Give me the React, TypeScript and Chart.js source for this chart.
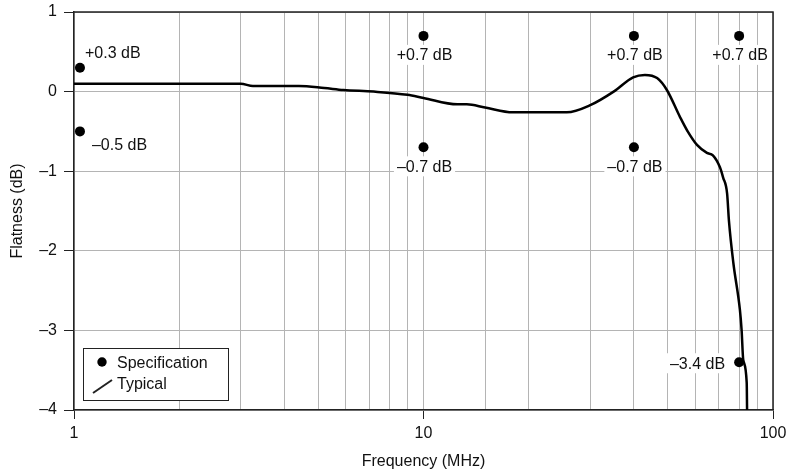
import React, { useEffect, useRef } from 'react';
import { Chart, registerables } from 'chart.js';

Chart.register(...registerables);

const FONT = '"Liberation Sans", Arial, Helvetica, sans-serif';

// Typical flatness curve
const freqMHz = [1, 3.0, 3.25, 4.4, 5.2, 5.9, 7.2, 9.0, 10, 12.5, 13.3, 15, 18, 20, 23, 25.7, 30, 35, 39.8, 43, 46.6, 49.7, 54.2, 57, 60.6, 64.7, 67.3, 70.5, 72, 73.9, 74.8, 77, 80.4, 81.3, 82.2, 84.1, 84.3];
const flatnessDb = [0.1, 0.1, 0.07, 0.07, 0.045, 0.02, 0.0, -0.04, -0.08, -0.16, -0.16, -0.2, -0.26, -0.26, -0.26, -0.26, -0.17, 0.0, 0.18, 0.21, 0.17, 0.02, -0.32, -0.5, -0.67, -0.77, -0.8, -0.95, -1.08, -1.28, -1.62, -2.15, -2.74, -2.99, -3.37, -3.66, -4.0];

// Specification points
const specFreqMHz = [1.04, 1.04, 10, 10, 40, 40, 80, 80];
const specDb = [0.3, -0.5, 0.7, -0.7, 0.7, -0.7, 0.7, -3.4];
const specLabels = ['+0.3 dB', '\u20130.5 dB', '+0.7 dB', '\u20130.7 dB', '+0.7 dB', '\u20130.7 dB', '+0.7 dB', '\u20133.4 dB'];
const specLabelPlacement = ['upright', 'downright', 'below', 'below', 'below', 'below', 'below', 'left'];

const xTickLabels = [1, 10, 100];
const yTickValues = [-4, -3, -2, -1, 0, 1];

const seriesNames = ['Typical', 'Specification'];
const xTitle = 'Frequency (MHz)';
const yTitle = 'Flatness (dB)';

const isDecade = (v: number) => {
  const l = Math.log10(v);
  return Math.abs(l - Math.round(l)) < 1e-6;
};

const frameAndLabels = {
  id: 'frameAndLabels',
  afterDatasetsDraw(chart: any) {
    const ctx = chart.ctx;
    const a = chart.chartArea;
    ctx.save();
    // top/right frame
    ctx.strokeStyle = '#222';
    ctx.lineWidth = 1.5;
    ctx.beginPath();
    ctx.moveTo(a.left, a.top);
    ctx.lineTo(a.right, a.top);
    ctx.lineTo(a.right, a.bottom);
    ctx.stroke();

    // spec labels
    const meta = chart.getDatasetMeta(1);
    ctx.font = `16px ${FONT}`;
    ctx.textBaseline = 'middle';
    meta.data.forEach((pt: any, i: number) => {
      const text = specLabels[i];
      const place = specLabelPlacement[i];
      let x = pt.x;
      let y = pt.y;
      let align: CanvasTextAlign = 'center';
      if (place === 'upright') { x = pt.x + 5; y = pt.y - 15; align = 'left'; }
      else if (place === 'downright') { x = pt.x + 12; y = pt.y + 13; align = 'left'; }
      else if (place === 'below') { x = pt.x + 1; y = pt.y + 19; align = 'center'; }
      else if (place === 'left') { x = pt.x - 14; y = pt.y + 1; align = 'right'; }
      const w = ctx.measureText(text).width;
      let bx = x - 3;
      if (align === 'center') bx = x - w / 2 - 3;
      if (align === 'right') bx = x - w - 3;
      ctx.fillStyle = '#ffffff';
      ctx.fillRect(bx, y - 10, w + 6, 20);
      ctx.fillStyle = '#111';
      ctx.textAlign = align;
      ctx.fillText(text, x, y + 1);
    });

    // legend
    const lx = a.left + 9;
    const ly = a.bottom - 62;
    const lw = 145;
    const lh = 52;
    ctx.fillStyle = '#fff';
    ctx.fillRect(lx, ly, lw, lh);
    ctx.strokeStyle = '#222';
    ctx.lineWidth = 1;
    ctx.strokeRect(lx + 0.5, ly + 0.5, lw, lh);
    ctx.fillStyle = '#000';
    ctx.beginPath();
    ctx.arc(lx + 19, ly + 14, 4.7, 0, Math.PI * 2);
    ctx.fill();
    ctx.strokeStyle = '#222';
    ctx.lineWidth = 2;
    ctx.beginPath();
    ctx.moveTo(lx + 10, ly + 45);
    ctx.lineTo(lx + 29, ly + 32);
    ctx.stroke();
    ctx.fillStyle = '#111';
    ctx.textAlign = 'left';
    ctx.textBaseline = 'middle';
    ctx.fillText(seriesNames[1], lx + 34, ly + 16);
    ctx.fillText(seriesNames[0], lx + 34, ly + 37);
    ctx.restore();
  },
};

export default function App() {
  const ref = useRef<HTMLCanvasElement>(null);
  useEffect(() => {
    document.body.style.margin = '0';
    const chart = new Chart(ref.current as HTMLCanvasElement, {
      type: 'scatter',
      data: {
        datasets: [
          {
            label: seriesNames[0],
            data: freqMHz.map((f, i) => ({ x: f, y: flatnessDb[i] })),
            showLine: true,
            borderColor: '#000',
            borderWidth: 2.5,
            pointRadius: 0,
            cubicInterpolationMode: 'monotone',
            order: 2,
          },
          {
            label: seriesNames[1],
            data: specFreqMHz.map((f, i) => ({ x: f, y: specDb[i] })),
            showLine: false,
            backgroundColor: '#000',
            borderColor: '#000',
            borderWidth: 0,
            pointRadius: 5,
            order: 1,
          },
        ],
      },
      options: {
        animation: false,
        responsive: false,
        layout: { padding: { top: 12, right: 19, left: 0, bottom: 0 } },
        plugins: { legend: { display: false }, tooltip: { enabled: false } },
        scales: {
          x: {
            type: 'logarithmic',
            min: 1,
            max: 100,
            afterFit: (s: any) => { s.height = 65; s.paddingLeft = 0; s.paddingRight = 0; },
            grid: {
              color: '#b4b4b4',
              lineWidth: 1,
              tickLength: 9,
              tickColor: (c: any) => (c.tick && isDecade(c.tick.value) ? '#222' : 'rgba(0,0,0,0)'),
            },
            border: { display: true, color: '#222', width: 1.5 },
            ticks: {
              autoSkip: false,
              maxRotation: 0,
              padding: 5,
              color: '#111',
              font: { family: FONT, size: 16 },
              callback: (v: any) => (xTickLabels.includes(Number(v)) ? String(v) : ''),
            },
            title: {
              display: true,
              text: xTitle,
              color: '#111',
              font: { family: FONT, size: 16 },
              padding: { top: 0, bottom: 4 },
            },
          },
          y: {
            type: 'linear',
            min: -4,
            max: 1,
            afterFit: (s: any) => { s.width = 74; s.paddingTop = 0; s.paddingBottom = 0; },
            afterBuildTicks: (s: any) => { s.ticks = yTickValues.map((v) => ({ value: v })); },
            grid: {
              color: '#b4b4b4',
              lineWidth: 1,
              tickLength: 10,
              tickColor: '#222',
            },
            border: { display: true, color: '#222', width: 1.5 },
            ticks: {
              padding: 7,
              color: '#111',
              font: { family: FONT, size: 16 },
              callback: (v: any) => (Number(v) < 0 ? '\u2013' + Math.abs(Number(v)) : String(v)),
            },
            title: {
              display: true,
              text: yTitle,
              color: '#111',
              font: { family: FONT, size: 16 },
              padding: { top: 8, bottom: 0 },
            },
          },
        },
      },
      plugins: [frameAndLabels],
    });
    return () => chart.destroy();
  }, []);
  return (
    <div style={{ position: 'fixed', left: 0, top: 0, width: 792, height: 475, background: '#fff' }}>
      <canvas ref={ref} width={792} height={475} />
    </div>
  );
}
